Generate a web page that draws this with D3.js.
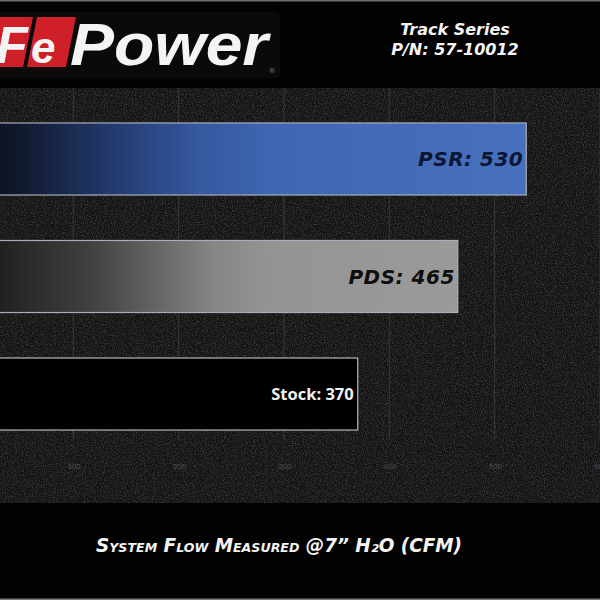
<!DOCTYPE html>
<html><head><meta charset="utf-8">
<script src="https://cdn.jsdelivr.net/npm/d3@7"></script>
<style>html,body{margin:0;padding:0;background:#000;}svg{display:block;}</style>
</head><body>
<script>
const categories = ["PSR", "PDS", "Stock"];
const values = [530, 465, 370];
const tickValues = [100, 200, 300, 400, 500, 600];
const headerLines = ["Track Series", "P/N: 57-10012"];
const axisTitle = "System Flow Measured @7\u201D H\u2082O (CFM)";

const W = 600, H = 600;
const svg = d3.select("body").append("svg").attr("width", W).attr("height", H);
const defs = svg.append("defs");

// noise texture
const f = defs.append("filter").attr("id", "noise").attr("x", 0).attr("y", 0).attr("width", "100%").attr("height", "100%");
f.append("feTurbulence").attr("type", "fractalNoise").attr("baseFrequency", 0.9).attr("numOctaves", 2).attr("seed", 4).attr("result", "t");
f.append("feColorMatrix").attr("type", "matrix")
  .attr("values", "0 0 0 0 0.15  0 0 0 0 0.15  0 0 0 0 0.15  1.2 0 0 0 -0.5");

// gradients
const gBlue = defs.append("linearGradient").attr("id", "gBlue").attr("x1", 0).attr("x2", 1).attr("y1", 0).attr("y2", 0);
[[0, "#080b13"], [0.1, "#111a30"], [0.2, "#1c2e58"], [0.3, "#28427c"], [0.42, "#3659a0"], [0.55, "#3f66b2"], [1, "#4770bd"]]
  .forEach(([o, c]) => gBlue.append("stop").attr("offset", o).attr("stop-color", c));
const gGray = defs.append("linearGradient").attr("id", "gGray").attr("x1", 0).attr("x2", 1).attr("y1", 0).attr("y2", 0);
[[0, "#141414"], [0.12, "#2a2a2a"], [0.25, "#404040"], [0.38, "#646464"], [0.5, "#858585"], [0.62, "#949494"], [1, "#9a9a9a"]]
  .forEach(([o, c]) => gGray.append("stop").attr("offset", o).attr("stop-color", c));

// background
svg.append("rect").attr("width", W).attr("height", H).attr("fill", "#121212");
svg.append("rect").attr("width", W).attr("height", H).attr("filter", "url(#noise)");

// header and footer
svg.append("rect").attr("x", 0).attr("y", 0).attr("width", W).attr("height", 88).attr("fill", "#020202");
svg.append("rect").attr("x", 0).attr("y", 0).attr("width", W).attr("height", 1.5).attr("fill", "#6a6a6a");
svg.append("rect").attr("x", 0).attr("y", 503).attr("width", W).attr("height", 97).attr("fill", "#020202");
svg.append("rect").attr("x", 0).attr("y", 598.5).attr("width", W).attr("height", 1.5).attr("fill", "#7a7a7a");

// scales
const x = d3.scaleLinear().domain([0, 600]).range([-32, 600]);
const y = d3.scaleBand().domain(categories).range([77.5, 475.5]).paddingInner(0.387).paddingOuter(0.387);

// gridlines
svg.append("g").selectAll("line").data(tickValues).join("line")
  .attr("x1", d => x(d)).attr("x2", d => x(d)).attr("y1", 88).attr("y2", 440)
  .attr("stroke", "#383838").attr("stroke-width", 1);

// axis
const axis = svg.append("g").attr("transform", "translate(0,460)")
  .call(d3.axisBottom(x).tickValues(tickValues).tickSize(0).tickFormat(d3.format("d")));
axis.select(".domain").remove();
axis.selectAll("text").attr("fill", "#4a4a4a").attr("font-family", "Calibri, 'Liberation Sans', sans-serif").attr("font-size", 9).attr("dy", "0.71em");

// bars
const fills = ["url(#gBlue)", "url(#gGray)", "#000"];
svg.append("g").selectAll("rect").data(values).join("rect")
  .attr("x", x(0) - 1).attr("y", (d, i) => y(categories[i]))
  .attr("width", d => x(d) - x(0) + 1).attr("height", y.bandwidth())
  .attr("fill", (d, i) => fills[i])
  .attr("stroke", (d, i) => i === 2 ? "#b8b8b8" : "#a9aebb").attr("stroke-width", 1.2);

// labels
const lab = svg.append("g");
values.forEach((v, i) => {
  const cy = y(categories[i]) + y.bandwidth() / 2;
  if (i < 2) {
    lab.append("text").attr("x", x(v) - 3).attr("y", cy + 7).attr("text-anchor", "end")
      .attr("font-family", "'DejaVu Sans', sans-serif").attr("font-weight", "bold").attr("font-style", "italic")
      .attr("font-size", 20).attr("letter-spacing", 0.5)
      .attr("fill", i === 0 ? "#0a1633" : "#0e0e0e")
      .text(categories[i] + ": " + v);
  } else {
    lab.append("text").attr("x", x(v) - 4).attr("y", cy + 6).attr("text-anchor", "end")
      .attr("font-family", "'Open Sans', sans-serif").attr("font-weight", 700)
      .attr("font-size", 16.5).attr("fill", "#f2f2f2")
      .text(categories[i] + ": " + v);
  }
});

// header text
headerLines.forEach((t, i) => {
  svg.append("text").attr("x", 455).attr("y", 35 + i * 20).attr("text-anchor", "middle")
    .attr("font-family", "'DejaVu Sans', sans-serif").attr("font-weight", "bold").attr("font-style", "italic")
    .attr("font-size", 16).attr("fill", "#f4f4f4").text(t);
});

// logo
const logo = svg.append("g");
logo.append("rect").attr("x", -10).attr("y", 12).attr("width", 290).attr("height", 66).attr("rx", 6).attr("fill", "#0a0a0a");
logo.append("path").attr("d", "M-10,17 L33,17 L23,67 L-10,67 Z").attr("fill", "#cf1f28");
logo.append("path").attr("d", "M37,17 L76,17 L66,67 L27,67 Z").attr("fill", "#cf1f28");
logo.append("text").attr("x", -4).attr("y", 63).attr("font-family", "'Liberation Sans', sans-serif")
  .attr("font-weight", "bold").attr("font-style", "italic").attr("font-size", 52).attr("fill", "#f4f4f4").text("F");
logo.append("text").attr("x", 31).attr("y", 63).attr("font-family", "'Liberation Sans', sans-serif")
  .attr("font-weight", "bold").attr("font-style", "italic").attr("font-size", 44).attr("fill", "#f4f4f4").text("e");
logo.append("text").attr("x", 70).attr("y", 65).attr("font-family", "'Liberation Sans', sans-serif")
  .attr("font-weight", "bold").attr("font-style", "italic").attr("font-size", 59).attr("fill", "#f4f4f4")
  .attr("textLength", 198).attr("lengthAdjust", "spacingAndGlyphs").text("Power");
logo.append("text").attr("x", 272).attr("y", 73).attr("font-family", "'DejaVu Sans', sans-serif")
  .attr("font-size", 7).attr("fill", "#777").attr("text-anchor", "middle").text("\u00AE");

// footer title
svg.append("text").attr("x", 96).attr("y", 552)
  .attr("font-family", "'DejaVu Sans', sans-serif").attr("font-weight", "bold").attr("font-style", "italic")
  .attr("font-size", 19).style("font-variant", "small-caps").attr("fill", "#f4f4f4")
  .attr("textLength", 366).attr("lengthAdjust", "spacingAndGlyphs").text(axisTitle);
</script>
</body></html>
